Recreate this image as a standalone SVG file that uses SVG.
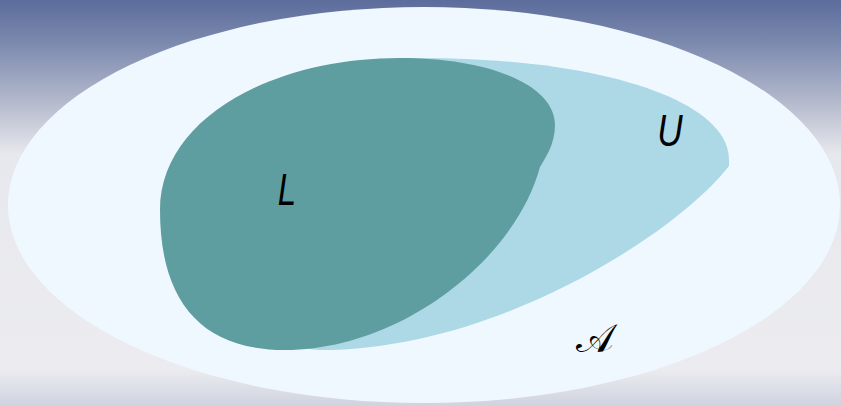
<svg xmlns="http://www.w3.org/2000/svg" width="841" height="405" viewBox="0 0 841 405">
<defs>
<linearGradient id="bg" x1="0" y1="0" x2="0" y2="1">
<stop offset="0" stop-color="#5c6c9b"/>
<stop offset="0.1" stop-color="#7a88ad"/>
<stop offset="0.25" stop-color="#b3b9cc"/>
<stop offset="0.38" stop-color="#e7e8ed"/>
<stop offset="0.91" stop-color="#ececf0"/>
<stop offset="1" stop-color="#d0d4e0"/>
</linearGradient>
<style>
.lbl{font-family:"Liberation Sans","DejaVu Sans",sans-serif;font-style:italic;fill:#000}
.scr{font-family:"DejaVu Serif","DejaVu Sans","Liberation Serif",serif;fill:#000}
</style>
</defs>
<rect width="841" height="405" fill="url(#bg)"/>
<g id="A">
<ellipse cx="424" cy="205" rx="416" ry="198" fill="#f0f8ff"/>
<text class="scr" x="595" y="352" font-size="40" text-anchor="middle">𝒜</text>
</g>
<g id="U">
<path d="M420,58 C600,58 729,100 729,160 L729,166 C680,230 500,350 320,350 C250,350 250,200 300,120 C330,80 380,58 420,58 Z" fill="#add8e6"/>
<text class="lbl" x="0" y="0" font-size="44" transform="translate(670,146) scale(0.8,1)" text-anchor="middle">U</text>
</g>
<g id="L">
<path d="M400,58 C490,58 555,85 555,125 C555,145 545,158 540,167 C515,260 400,350 285,350 C200,350 160,300 160,210 C160,120 270,58 400,58 Z" fill="#5f9ea0"/>
<text class="lbl" x="0" y="0" font-size="44" transform="translate(287,205) scale(0.75,1)" text-anchor="middle">L</text>
</g>
<g id="connectors"/>
</svg>
